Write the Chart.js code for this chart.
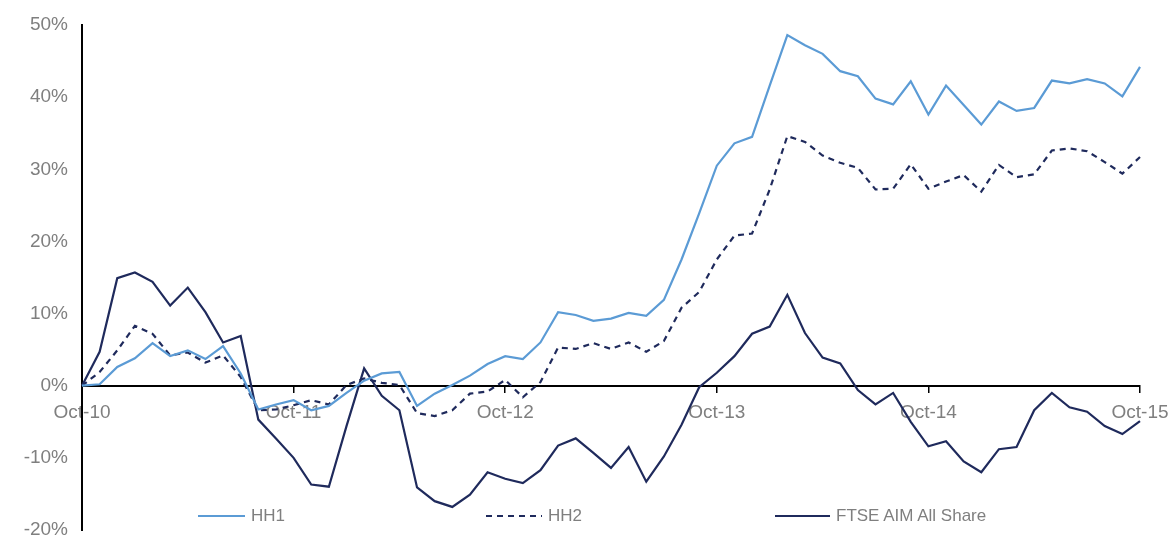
<!DOCTYPE html>
<html>
<head>
<meta charset="utf-8">
<script src="https://cdn.jsdelivr.net/npm/chart.js@4.4.0/dist/chart.umd.min.js"></script>
<style>
  body { margin: 0; background: #fff; }
  #wrap { position: relative; width: 1171px; height: 538px; }
  .leg { position: absolute; top: 506px; font-family: "Liberation Sans", Arial, sans-serif; font-size: 17px; color: #7f7f7f; display: flex; align-items: center; }
  .leg svg { margin-right: 6px; }
</style>
</head>
<body>
<div id="wrap">
  <canvas id="grafica"></canvas>
  <div class="leg" style="left:198px"><svg width="47" height="4"><line x1="0" y1="2" x2="47" y2="2" stroke="#5b9bd5" stroke-width="2.2"/></svg>HH1</div>
  <div class="leg" style="left:486px"><svg width="56" height="4"><line x1="0" y1="2" x2="56" y2="2" stroke="#1f2a5c" stroke-width="2.2" stroke-dasharray="6 5"/></svg>HH2</div>
  <div class="leg" style="left:775px"><svg width="55" height="4"><line x1="0" y1="2" x2="55" y2="2" stroke="#1f2a5c" stroke-width="2.2"/></svg>FTSE AIM All Share</div>
</div>
<script>
// ======================
// DATOS
// ======================
const meses = [
  "Oct-10","Nov-10","Dec-10","Jan-11","Feb-11","Mar-11","Apr-11","May-11","Jun-11","Jul-11","Aug-11","Sep-11",
  "Oct-11","Nov-11","Dec-11","Jan-12","Feb-12","Mar-12","Apr-12","May-12","Jun-12","Jul-12","Aug-12","Sep-12",
  "Oct-12","Nov-12","Dec-12","Jan-13","Feb-13","Mar-13","Apr-13","May-13","Jun-13","Jul-13","Aug-13","Sep-13",
  "Oct-13","Nov-13","Dec-13","Jan-14","Feb-14","Mar-14","Apr-14","May-14","Jun-14","Jul-14","Aug-14","Sep-14",
  "Oct-14","Nov-14","Dec-14","Jan-15","Feb-15","Mar-15","Apr-15","May-15","Jun-15","Jul-15","Aug-15","Sep-15",
  "Oct-15"
];

const hh1 = [
  0, 0.2, 2.6, 3.8, 5.9, 4.1, 4.9, 3.7, 5.5, 1.7, -3.3, -2.6,
  -2.0, -3.4, -2.8, -1.0, 0.7, 1.7, 1.9, -2.8, -1.1, 0.1, 1.4, 3.0,
  4.1, 3.7, 6.0, 10.2, 9.8, 9.0, 9.3, 10.1, 9.7, 11.9, 17.5, 23.9,
  30.5, 33.6, 34.5, 41.6, 48.6, 47.2, 46.0, 43.6, 42.9, 39.8, 39.0, 42.2,
  37.6, 41.6, 38.9, 36.2, 39.4, 38.1, 38.5, 42.3, 41.9, 42.5, 41.9, 40.1,
  44.2
];

const hh2 = [
  0, 1.9, 4.9, 8.3, 7.2, 4.2, 4.6, 3.2, 4.2, 1.2, -3.4, -3.3,
  -2.7, -2.0, -2.6, 0.1, 1.0, 0.4, 0.1, -3.8, -4.2, -3.4, -1.1, -0.8,
  0.8, -1.6, 0.5, 5.3, 5.1, 5.9, 5.1, 6.0, 4.7, 6.2, 10.8, 13.0,
  17.5, 20.8, 21.1, 27.2, 34.6, 33.8, 31.9, 30.9, 30.2, 27.2, 27.3, 30.7,
  27.3, 28.3, 29.2, 26.9, 30.6, 28.9, 29.3, 32.6, 32.9, 32.5, 31.0, 29.4,
  31.7
];

const ftseAim = [
  0, 4.7, 14.9, 15.7, 14.4, 11.1, 13.6, 10.2, 6.0, 6.9, -4.7, -7.3,
  -10.0, -13.7, -14.0, -5.6, 2.4, -1.4, -3.4, -14.1, -16.0, -16.8, -15.1, -12.0,
  -12.9, -13.5, -11.7, -8.3, -7.3, -9.3, -11.4, -8.5, -13.3, -9.8, -5.4, -0.2,
  1.8, 4.1, 7.2, 8.2, 12.6, 7.3, 3.9, 3.1, -0.6, -2.6, -1.0, -5.0,
  -8.4, -7.7, -10.5, -12.0, -8.8, -8.5, -3.4, -1.0, -3.0, -3.6, -5.6, -6.7,
  -4.9
];

const yMin = -20;
const yMax = 50;
const yPaso = 10;

// ======================
// GRAFICA
// ======================
const fuente = { family: "'Liberation Sans', Arial, sans-serif", size: 19 };
const gris = "#7f7f7f";

const ctx = document.getElementById("grafica").getContext("2d");

new Chart(ctx, {
    type: "line",
    data: {
        labels: meses,
        datasets: [
            { label: "HH1", data: hh1, borderColor: "#5b9bd5", borderWidth: 2.2, pointRadius: 0, tension: 0 },
            { label: "HH2", data: hh2, borderColor: "#1f2a5c", borderWidth: 2.2, borderDash: [6, 5], pointRadius: 0, tension: 0 },
            { label: "FTSE AIM All Share", data: ftseAim, borderColor: "#1f2a5c", borderWidth: 2.2, pointRadius: 0, tension: 0 }
        ]
    },
    options: {
        responsive: true,
        maintainAspectRatio: false,
        animation: false,
        layout: { padding: { top: 25, right: 31, bottom: 8, left: 0 } },
        plugins: {
            legend: { display: false },
            tooltip: { enabled: false }
        },
        scales: {
            x: {
                type: "category",
                offset: false,
                position: { y: 0 },
                afterFit: s => { s.height = 0; s.paddingLeft = 0; s.paddingRight = 0; },
                border: { display: true, color: "#000", width: 2 },
                grid: { drawOnChartArea: false, drawTicks: true, tickLength: 6, color: "#000", lineWidth: 1.5 },
                ticks: {
                    autoSkip: false,
                    maxRotation: 0,
                    padding: 10,
                    color: gris,
                    font: fuente,
                    callback: function (val, i) {
                        return i % 12 === 0 ? this.getLabelForValue(val) : null;
                    }
                }
            },
            y: {
                min: yMin,
                max: yMax,
                afterFit: s => { s.width = 82; s.paddingTop = 0; s.paddingBottom = 0; },
                border: { display: true, color: "#000", width: 2 },
                grid: { display: true, drawOnChartArea: false, drawTicks: false },
                ticks: {
                    stepSize: yPaso,
                    padding: 14,
                    color: gris,
                    font: fuente,
                    callback: v => v + "%"
                }
            }
        }
    }
});
</script>
</body>
</html>
